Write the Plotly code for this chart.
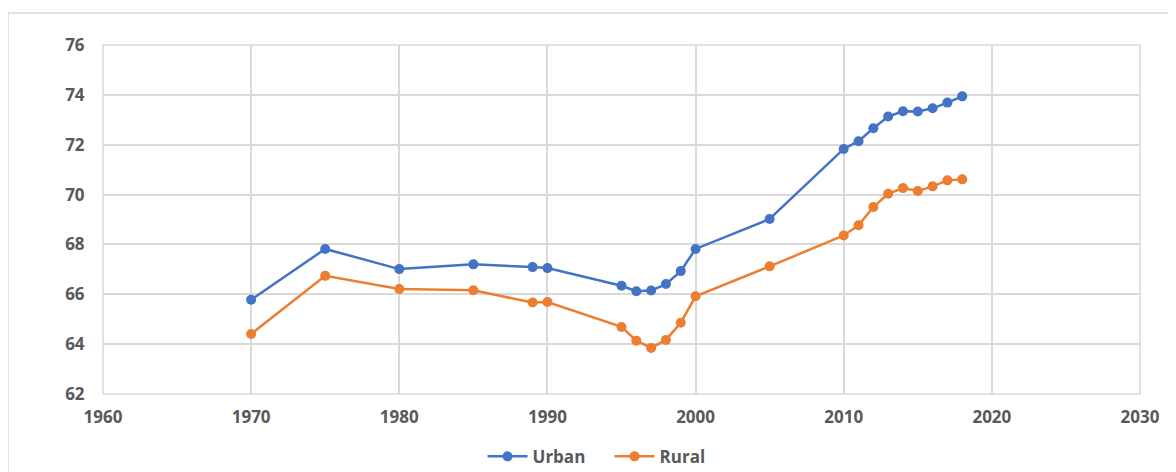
import plotly.graph_objects as go

years = [1970, 1975, 1980, 1985, 1989, 1990, 1995, 1996, 1997, 1998, 1999, 2000,
         2005, 2010, 2011, 2012, 2013, 2014, 2015, 2016, 2017, 2018]
urban = [65.78, 67.82, 67.01, 67.2, 67.09, 67.05, 66.34, 66.12, 66.15, 66.41, 66.93, 67.82,
         69.02, 71.83, 72.14, 72.66, 73.13, 73.34, 73.33, 73.46, 73.69, 73.94]
rural = [64.41, 66.74, 66.21, 66.16, 65.67, 65.69, 64.69, 64.14, 63.85, 64.17, 64.86, 65.92,
         67.12, 68.36, 68.77, 69.5, 70.03, 70.26, 70.14, 70.33, 70.57, 70.61]
series_names = ["Urban", "Rural"]
colors = ["#4472C4", "#ED7D31"]
x_ticks = [1960, 1970, 1980, 1990, 2000, 2010, 2020, 2030]
y_ticks = [62, 64, 66, 68, 70, 72, 74, 76]

fig = go.Figure()
for name, vals, col in zip(series_names, [urban, rural], colors):
    fig.add_trace(go.Scatter(
        x=years, y=vals, name=name, mode="lines+markers",
        line=dict(color=col, width=2.5),
        marker=dict(color=col, size=10),
    ))

tickfont = dict(family="Open Sans", size=17, color="#595959", weight=700)
fig.update_layout(
    width=1160, height=464,
    margin=dict(l=95, r=28, t=37, b=78, autoexpand=False),
    paper_bgcolor="white", plot_bgcolor="white",
    showlegend=True,
    legend=dict(orientation="h", x=0.366, xanchor="left", y=-0.18, yanchor="middle",
                font=tickfont, itemwidth=40, tracegroupgap=0,
                entrywidth=72, entrywidthmode="pixels"),
    xaxis=dict(range=[1960, 2030], tickvals=x_ticks, showgrid=True, gridcolor="#d9d9d9",
               gridwidth=1.5, zeroline=False, showline=False, tickfont=tickfont,
               ticks="outside", ticklen=8, tickcolor="rgba(0,0,0,0)", automargin=False),
    yaxis=dict(range=[62, 76], tickvals=y_ticks, showgrid=True, gridcolor="#d9d9d9",
               gridwidth=1.5, zeroline=False, showline=False, tickfont=tickfont,
               ticks="outside", ticklen=14, tickcolor="rgba(0,0,0,0)", automargin=False),
    shapes=[
        dict(type="rect", xref="paper", yref="paper", x0=-0.0916, x1=1.2, y0=-0.5, y1=1.0917,
             line=dict(color="#d9d9d9", width=1.5), fillcolor="rgba(0,0,0,0)", layer="below"),
        dict(type="rect", xref="paper", yref="paper", x0=0, x1=1, y0=0, y1=1,
             line=dict(color="#d9d9d9", width=1.5), fillcolor="rgba(0,0,0,0)", layer="below"),
    ],
)
fig.write_html("out.html")
